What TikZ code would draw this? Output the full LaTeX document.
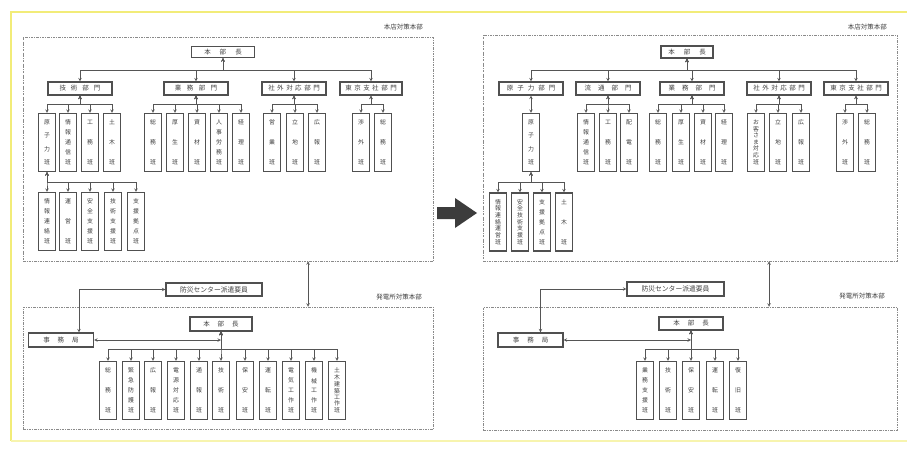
\documentclass[tikz,border=0pt]{standalone}
\usepackage{fontspec}
\newfontfamily\jp{Noto Sans CJK JP}
\usetikzlibrary{arrows,positioning}
\definecolor{boxgray}{HTML}{505050}
\definecolor{linegray}{HTML}{555555}
\definecolor{txtgray}{HTML}{404040}
\definecolor{dashgray}{HTML}{8A8A8A}
\definecolor{frameyellow}{HTML}{F2EC78}
\definecolor{arrowgray}{HTML}{3C3C3C}

% tate text: one character per line, spread over the box
\newcommand\tate[1]{\edef\tatetmp{#1}\vbox to 45pt{\offinterlineskip\expandafter\tatefirst\tatetmp\relax}}
\def\tatefirst#1{\hbox to 12pt{\hss#1\hss}\tatenext}
\def\tatenext#1{\ifx#1\relax\else\vfill\hbox to 12pt{\hss#1\hss}\expandafter\tatenext\fi}
% letter-spaced text
\newcommand\spread[2]{\def\spreadgap{#1}\spreadfirst#2\relax}
\def\spreadfirst#1{#1\spreadnext}
\def\spreadnext#1{\ifx#1\relax\else\kern\spreadgap\relax#1\expandafter\spreadnext\fi}

\tikzset{
  unit/.style={draw=boxgray, line width=1.1pt, minimum width=17, minimum height=58, inner sep=0pt, text=txtgray, font=\jp\fontsize{5.9}{6}\selectfont},
  dept/.style={draw=boxgray, line width=1.1pt, minimum width=64, minimum height=13, inner sep=0pt, text=txtgray, font=\jp\fontsize{6.5}{7}\selectfont},
  region/.style={draw=dashgray, line width=0.5pt, dash pattern=on 2.5pt off 1.2pt on 0.6pt off 1.2pt, inner sep=0pt},
  tag/.style={text=txtgray, font=\jp\fontsize{6.5}{7}\selectfont, inner sep=0pt},
  link/.style={<->, >=stealth, draw=linegray, line width=0.6pt}
}

\begin{document}
\begin{tikzpicture}[x=1pt,y=-1pt]
    \useasboundingbox (0,0) rectangle (907,452);
    \fill[white] (0,0) rectangle (907,452);
    % yellow frame
    \draw[frameyellow, line width=1.6pt] (907,12) -- (11,12) -- (11,441);
    \draw[frameyellow!60, line width=1.5pt] (11,441) -- (907,441);

    % ---- before: head office ----
    \node[region, minimum width=410, minimum height=224] (Ltop) at (228,149) {};
    \node[tag, anchor=east] (Ltoptag) at (423,27) {本店対策本部};
    \node[dept, minimum width=63, minimum height=11] (Lhq) at (223,52) {\spread{9pt}{本部長}};
    \node[dept] (Lgijutsu) at (80,88.5) {\spread{5pt}{技術部門}};
    \node[dept] (Lgyomu) at (196,88.5) {\spread{5.5pt}{業務部門}};
    \node[dept] (Lshagai) at (294,88.5) {\spread{2.5pt}{社外対応部門}};
    \node[dept, minimum width=62] (Ltokyo) at (371,88.5) {\spread{2.5pt}{東京支社部門}};
    \foreach \d in {Lgijutsu,Lgyomu,Lshagai,Ltokyo}
        \draw[link] (Lhq.south) -- ++(0,12) -| (\d.north);

    \foreach \x/\t [count=\i] in {47/原子力班,68/情報通信班,90/工務班,112/土木班}
        \node[unit] (Lgijutsu-\i) at (\x,142.5) {\tate{\t}};
    \foreach \i in {1,...,4}
        \draw[link] (Lgijutsu.south) -- ++(0,9) -| (Lgijutsu-\i.north);
    \foreach \x/\t [count=\i] in {153/総務班,175/厚生班,197/資材班,219/人事労務班,241/経理班}
        \node[unit] (Lgyomu-\i) at (\x,142.5) {\tate{\t}};
    \foreach \i in {1,...,5}
        \draw[link] (Lgyomu.south) -- ++(0,9) -| (Lgyomu-\i.north);
    \foreach \x/\t [count=\i] in {272/営業班,295/立地班,317/広報班}
        \node[unit] (Lshagai-\i) at (\x,142.5) {\tate{\t}};
    \foreach \i in {1,...,3}
        \draw[link] (Lshagai.south) -- ++(0,9) -| (Lshagai-\i.north);
    \foreach \x/\t [count=\i] in {361/渉外班,383/総務班}
        \node[unit] (Ltokyo-\i) at (\x,142.5) {\tate{\t}};
    \foreach \i in {1,2}
        \draw[link] (Ltokyo.south) -- ++(0,9) -| (Ltokyo-\i.north);

    \foreach \x/\t [count=\i] in {47/情報連絡班,68/運営班,90/安全支援班,113/技術支援班,136/支援拠点班}
        \node[unit] (Lsub-\i) at (\x,221.5) {\tate{\t}};
    \foreach \i in {1,...,5}
        \draw[link] (Lgijutsu-1.south) -- ++(0,10) -| (Lsub-\i.north);

    % ---- before: power station ----
    \node[region, minimum width=410, minimum height=122] (Lbot) at (228,368) {};
    \node[tag, anchor=east] (Lbottag) at (422,297) {発電所対策本部};
    \draw[link] ([xshift=80]Ltop.south) -- ([xshift=80]Lbot.north);
    \node[dept, minimum width=96, font=\jp\fontsize{6.8}{7}\selectfont] (Loff) at (214,289.5) {防災センター派遣要員};
    \node[dept, minimum width=65, minimum height=14] (Ljim) at (61,340) {\spread{8pt}{事務局}};
    \node[dept, minimum width=62, minimum height=14] (Lhq2) at (221,324) {\spread{8pt}{本部長}};
    \draw[link] ([xshift=18]Ljim.north) |- (Loff.west);
    \draw[link] (Ljim.east) -- (Ljim.east -| Lhq2.south);
    \foreach \x/\t [count=\i] in {108/総務班,131/緊急防護班,153/広報班,176/電源対応班,199/通報班,221/技術班,245/保安班,268/運転班,291/電気工作班,314/機械工作班,337/土木建築工作班}
        \node[unit] (Lteam-\i) at (\x,390.5) {\tate{\t}};
    \foreach \i in {1,...,11}
        \draw[link] (Lhq2.south) -- ++(0,18) -| (Lteam-\i.north);

    % big arrow
    \fill[arrowgray] (437,207) -- (455,207) -- (455,198) -- (477,213) -- (455,228) -- (455,219) -- (437,219) -- cycle;

    % ---- after: head office ----
    \node[region, minimum width=414, minimum height=226] (Rtop) at (690,148) {};
    \node[tag, anchor=east] (Rtoptag) at (887,27) {本店対策本部};
    \node[dept, minimum width=52, minimum height=12] (Rhq) at (687,52) {\spread{9pt}{本部長}};
    \node[dept] (Rgenshi) at (531,88.5) {\spread{4pt}{原子力部門}};
    \node[dept] (Rryutsu) at (608,88.5) {\spread{7pt}{流通部門}};
    \node[dept] (Rgyomu) at (692,88.5) {\spread{7pt}{業務部門}};
    \node[dept] (Rshagai) at (779,88.5) {\spread{2.5pt}{社外対応部門}};
    \node[dept] (Rtokyo) at (856,88.5) {\spread{2.5pt}{東京支社部門}};
    \foreach \d in {Rgenshi,Rryutsu,Rgyomu,Rshagai,Rtokyo}
        \draw[link] (Rhq.south) -- ++(0,12) -| (\d.north);

    \node[unit] (Rgenshi-1) at (531,142.5) {\tate{原子力班}};
    \draw[link] (Rgenshi.south) -- (Rgenshi-1.north);
    \foreach \x/\t [count=\i] in {586/情報通信班,608/工務班,629/配電班}
        \node[unit] (Rryutsu-\i) at (\x,142.5) {\tate{\t}};
    \foreach \i in {1,...,3}
        \draw[link] (Rryutsu.south) -- ++(0,9) -| (Rryutsu-\i.north);
    \foreach \x/\t [count=\i] in {658/総務班,681/厚生班,703/資材班,724/経理班}
        \node[unit] (Rgyomu-\i) at (\x,142.5) {\tate{\t}};
    \foreach \i in {1,...,4}
        \draw[link] (Rgyomu.south) -- ++(0,9) -| (Rgyomu-\i.north);
    \foreach \x/\t [count=\i] in {756/お客さま対応班,778/立地班,801/広報班}
        \node[unit] (Rshagai-\i) at (\x,142.5) {\tate{\t}};
    \foreach \i in {1,...,3}
        \draw[link] (Rshagai.south) -- ++(0,9) -| (Rshagai-\i.north);
    \foreach \x/\t [count=\i] in {845/渉外班,867/総務班}
        \node[unit] (Rtokyo-\i) at (\x,142.5) {\tate{\t}};
    \foreach \i in {1,2}
        \draw[link] (Rtokyo.south) -- ++(0,9) -| (Rtokyo-\i.north);

    \foreach \x/\t [count=\i] in {498/情報連絡運営班,520/安全技術支援班,542/支援拠点班,564/土木班}
        \node[unit] (Rsub-\i) at (\x,222) {\tate{\t}};
    \foreach \i in {1,...,4}
        \draw[link] (Rgenshi-1.south) -- ++(0,10) -| (Rsub-\i.north);

    % ---- after: power station ----
    \node[region, minimum width=414, minimum height=123] (Rbot) at (690,368.5) {};
    \node[tag, anchor=east] (Rbottag) at (885,296) {発電所対策本部};
    \draw[link] ([xshift=79]Rtop.south) -- ([xshift=79]Rbot.north);
    \node[dept, minimum width=97, minimum height=14, font=\jp\fontsize{6.8}{7}\selectfont] (Roff) at (675.5,289) {防災センター派遣要員};
    \node[dept, minimum width=65, minimum height=14] (Rjim) at (530.5,340) {\spread{8pt}{事務局}};
    \node[dept, minimum width=64, minimum height=13] (Rhq2) at (691,323.5) {\spread{8pt}{本部長}};
    \draw[link] ([xshift=10]Rjim.north) |- (Roff.west);
    \draw[link] (Rjim.east) -- (Rjim.east -| Rhq2.south);
    \foreach \x/\t [count=\i] in {645/業務支援班,668/技術班,691/保安班,715/運転班,738/復旧班}
        \node[unit] (Rteam-\i) at (\x,390.5) {\tate{\t}};
    \foreach \i in {1,...,5}
        \draw[link] (Rhq2.south) -- ++(0,19) -| (Rteam-\i.north);
\end{tikzpicture}
\end{document}
